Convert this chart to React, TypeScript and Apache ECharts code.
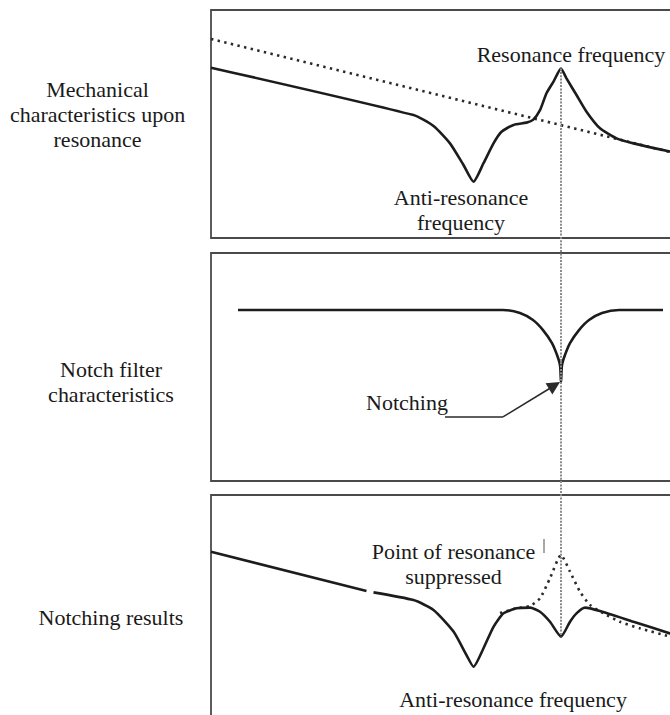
import React, { useEffect, useRef } from "react";
import * as echarts from "echarts";

// Shared frequency position of the resonance (x axis units 0..100)
const resonanceFreq = 70;

// Panel 1: mechanical characteristics upon resonance
const mechResponse: [number, number][] = [
  [0, 74.7], [40.5, 53.9], [44.5, 49.1], [47.8, 41.5], [50.5, 32.0], [52.5, 24.7],
  [54.5, 32.8], [56.5, 41.5], [58.1, 46.6], [60.5, 49.6], [63.1, 50.6], [64.4, 51.8],
  [65.8, 56.1], [67.1, 63.5], [68.5, 68.6], [70, 74.3], [71.1, 70.0], [73.1, 62.7],
  [75.1, 55.4], [77.8, 48.1], [81.1, 43.7], [84.5, 41.5], [91.8, 37.9], [100, 34.2],
];
const mechAsymptote: [number, number][] = [[0, 87.3], [100, 33.3]];

// Panel 2: notch filter characteristics
const notchFilter: [number, number][] = [
  [5.4, 75], [58.4, 75], [61.8, 73.7], [64.4, 70.6], [66.4, 66.2], [68.2, 60.5],
  [69.2, 55.3], [69.8, 50.9], [70, 43.4], [70.2, 50.9], [70.8, 55.3], [71.8, 60.5],
  [73.6, 66.2], [75.6, 70.6], [78.2, 73.7], [81.6, 75], [90.4, 75],
];
const notchArrowTail: [number, number][] = [[46.8, 28.1], [58.4, 28.1]];
const notchArrowHead: [number, number][] = [[58.4, 28.1], [68.7, 41.9]];

// Panel 3: notching results
const resultResponse: ([number, number] | [number, null])[] = [
  [0, 75.1], [31.1, 57.9], [31.8, null], [32.5, 57.3], [40.5, 53.9], [44.5, 49.6],
  [48.5, 40.1], [51.1, 29.8], [52.5, 24.7], [54.5, 32.8], [56.5, 42.2], [58.5, 48.1],
  [61.1, 50.3], [63.8, 50.6], [65.8, 48.8], [67.8, 44.4], [70.0, 37.9], [71.8, 44.4],
  [73.1, 48.1], [74.8, 50.6], [77.8, 49.1], [84.5, 44.4], [91.8, 39.3], [100, 33.3],
];
const resultUnsuppressed: [number, number][] = [
  [57.8, 48.2], [61.1, 50.3], [63.8, 51.3], [65.8, 54.7], [67.8, 63.5], [70, 73.7],
  [71.8, 66.4], [73.8, 57.6], [75.8, 51.8], [78.5, 48.1], [81.8, 44.4], [85.8, 41.5],
  [91.8, 37.9], [100, 32.9],
];

// Texts
const panelTitles = [
  "Mechanical\ncharacteristics upon\nresonance",
  "Notch filter\ncharacteristics",
  "Notching results",
];
const annotationTexts = [
  "Resonance frequency",
  "Anti-resonance\nfrequency",
  "Notching",
  "Point of resonance\nsuppressed",
  "Anti-resonance frequency",
];

export default function App() {
  const ref = useRef<HTMLDivElement>(null);

  useEffect(() => {
    if (!ref.current) return;
    const chart = echarts.init(ref.current, undefined, { renderer: "svg" });

    const gridTops = [10, 253, 495];
    const grids = gridTops.map((top) => ({
      left: 211, top, width: 500, height: 228,
      outerBoundsMode: "none", containLabel: false,
      show: true, borderColor: "#4a4a4a", borderWidth: 1.8,
      backgroundColor: "transparent",
    }));
    const xAxes = gridTops.map((_, i) => ({ type: "value", gridIndex: i, min: 0, max: 100, show: false }));
    const yAxes = gridTops.map((_, i) => ({ type: "value", gridIndex: i, min: 0, max: 100, show: false }));

    const solid = { color: "#1c1c1c", width: 2.6 };
    const dotted = { color: "#2a2a2a", width: 2.6, type: [2.4, 4.4] as any };
    const arrowStyle = { color: "#2a2a2a", width: 1.6, opacity: 1 };

    chart.setOption({
      animation: false,
      backgroundColor: "#ffffff",
      textStyle: { fontFamily: "Liberation Serif" },
      grid: grids,
      xAxis: xAxes,
      yAxis: yAxes,
      series: [
        { type: "line", xAxisIndex: 0, yAxisIndex: 0, data: mechAsymptote, showSymbol: false, lineStyle: dotted, silent: true },
        { type: "line", xAxisIndex: 0, yAxisIndex: 0, data: mechResponse, showSymbol: false, smooth: 0.2, lineStyle: solid, silent: true },
        { type: "line", xAxisIndex: 1, yAxisIndex: 1, data: notchFilter, showSymbol: false, smooth: 0.3, lineStyle: solid, silent: true },
        { type: "lines", coordinateSystem: "cartesian2d", xAxisIndex: 1, yAxisIndex: 1, symbol: ["none", "none"], lineStyle: arrowStyle, data: [{ coords: notchArrowTail }], silent: true },
        { type: "lines", coordinateSystem: "cartesian2d", xAxisIndex: 1, yAxisIndex: 1, symbol: ["none", "triangle"], symbolSize: [9, 13], lineStyle: arrowStyle, data: [{ coords: notchArrowHead }], silent: true },
        { type: "line", xAxisIndex: 2, yAxisIndex: 2, data: resultUnsuppressed, showSymbol: false, smooth: 0.2, lineStyle: dotted, silent: true },
        { type: "line", xAxisIndex: 2, yAxisIndex: 2, data: resultResponse, showSymbol: false, smooth: 0.2, connectNulls: false, lineStyle: solid, silent: true },
      ],
    });

    const top = chart.convertToPixel({ gridIndex: 0 }, [resonanceFreq, 74.3]) as number[];
    const bottom = chart.convertToPixel({ gridIndex: 2 }, [resonanceFreq, 37.9]) as number[];

    const txt = (text: string, x: number, y: number) => ({
      type: "text",
      x,
      y,
      scaleX: 1.1,
      z: 20,
      style: {
        text,
        fill: "#1a1a1a",
        fontFamily: "Liberation Serif",
        fontSize: 20,
        textAlign: "center",
        verticalAlign: "middle",
        lineHeight: 25,
      },
    });

    chart.setOption({
      graphic: [
        { type: "line", z: 15, shape: { x1: top[0], y1: top[1], x2: bottom[0], y2: bottom[1] }, style: { stroke: "#8c8c8c", lineWidth: 2, lineDash: [2, 1.3] } },
        { type: "line", z: 15, shape: { x1: 544, y1: 539, x2: 544, y2: 553 }, style: { stroke: "#a8a8a8", lineWidth: 2 } },
        txt(panelTitles[0], 97.5, 115.5),
        txt(panelTitles[1], 111, 383),
        txt(panelTitles[2], 111, 618),
        txt(annotationTexts[0], 571, 55),
        txt(annotationTexts[1], 461, 211),
        txt(annotationTexts[2], 407, 403),
        txt(annotationTexts[3], 453.5, 564.5),
        txt(annotationTexts[4], 513, 700),
      ],
    });

    return () => chart.dispose();
  }, []);

  return (
    <div ref={ref} style={{ position: "fixed", left: 0, top: 0, width: 670, height: 715, overflow: "hidden", background: "#fff" }} />
  );
}
